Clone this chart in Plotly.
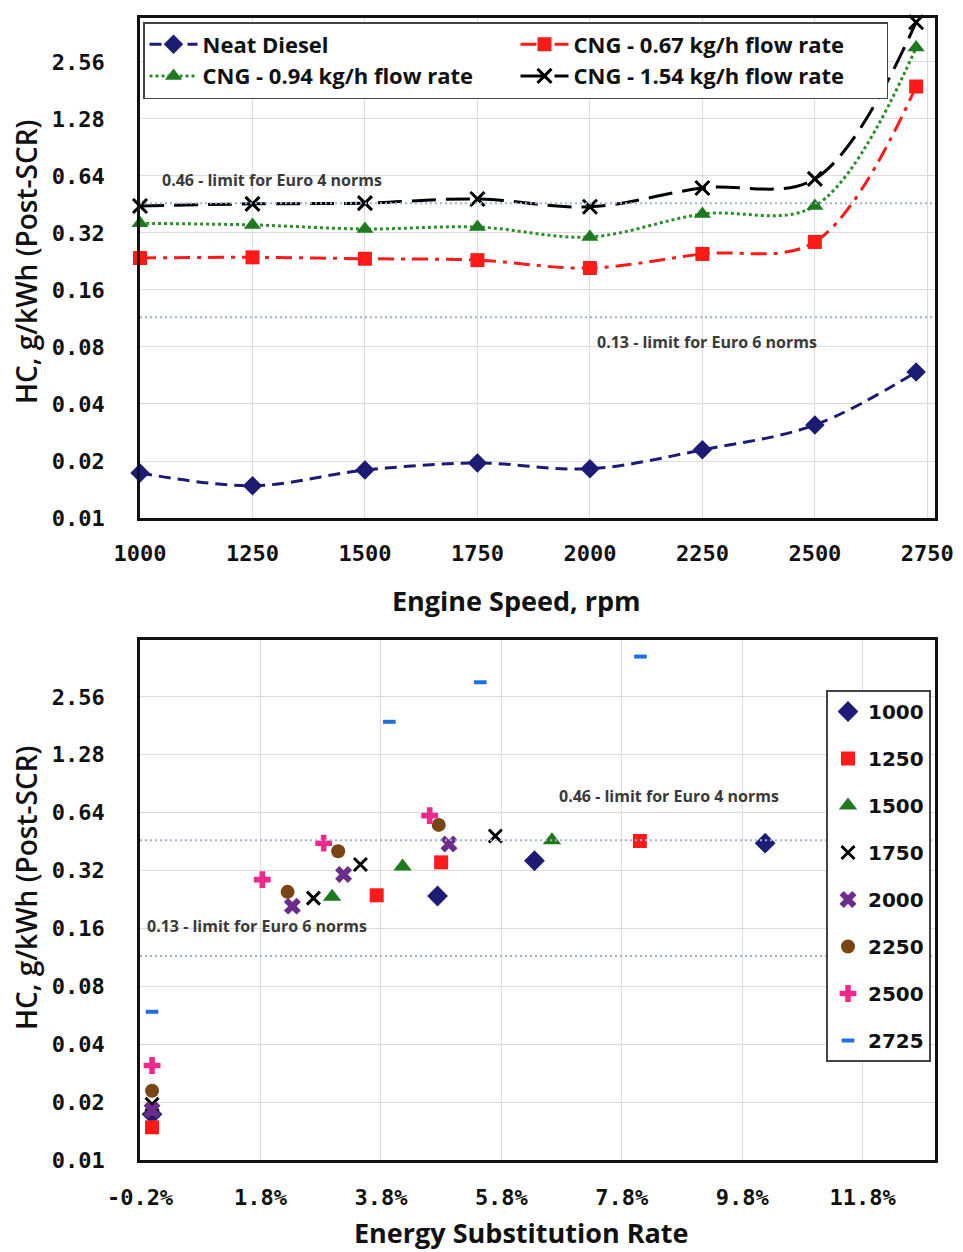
import math
import plotly.graph_objects as go

# ---------------- data ----------------
rpm = [1000, 1250, 1500, 1750, 2000, 2250, 2500, 2725]
hc_neat_diesel = [0.0173, 0.0148, 0.0179, 0.0195, 0.0182, 0.0229, 0.031, 0.059]
hc_cng_067 = [0.236, 0.238, 0.234, 0.230, 0.209, 0.248, 0.287, 1.90]
hc_cng_094 = [0.360, 0.353, 0.336, 0.344, 0.305, 0.403, 0.444, 3.05]
hc_cng_154 = [0.444, 0.456, 0.460, 0.484, 0.440, 0.553, 0.618, 4.15]

# energy substitution rate (%) for each rpm at the three CNG flow rates
esr_cng_067 = [4.74, 3.73, 2.99, 2.68, 2.33, 2.25, 1.83, 3.94]
esr_cng_094 = [6.35, 4.80, 4.16, 3.46, 3.18, 3.09, 2.85, 5.45]
esr_cng_154 = [10.18, 8.10, 6.64, 5.70, 4.93, 4.76, 4.61, 8.11]
esr_neat_diesel = [0.0] * 8

euro4_limit = 0.46
euro6_limit = 0.115
euro4_label = "0.46 - limit for Euro 4 norms"
euro6_label = "0.13 - limit for Euro 6 norms"

y_tick_vals = [0.01, 0.02, 0.04, 0.08, 0.16, 0.32, 0.64, 1.28, 2.56]
y_tick_text = ["0.01", "0.02", "0.04", "0.08", "0.16", "0.32", "0.64", "1.28", "2.56"]
x1_ticks = [1000, 1250, 1500, 1750, 2000, 2250, 2500, 2750]
x2_ticks = [-0.2, 1.8, 3.8, 5.8, 7.8, 9.8, 11.8]
x2_tick_text = ["-0.2%", "1.8%", "3.8%", "5.8%", "7.8%", "9.8%", "11.8%"]

series_names = ["Neat Diesel", "CNG - 0.67 kg/h flow rate",
                "CNG - 0.94 kg/h flow rate", "CNG - 1.54 kg/h flow rate"]

# ---------------- styling ----------------
W, H = 963, 1252
PX_L, PX_R = 140, 935
TOP_T, TOP_B = 18, 518
BOT_T, BOT_B = 640, 1160

x1_range = [1000, 2767]
y1_range = [math.log10(0.01), math.log10(4.37)]
x2_range = [-0.2, 13.0]
y2_range = [math.log10(0.01), math.log10(5.06)]

NAVY = "#1c1c74"
RED = "#ff1a1a"
GREEN = "#1f7a1f"
GREEN_LINE = "#2a8f2a"
BLACK = "#000000"
PURPLE = "#6b2c8c"
BROWN = "#7a4514"
PINK = "#f0288c"
BLUE = "#1f6fe0"
LIMIT = "#9fb3d1"

fig = go.Figure()

# ---------- top chart ----------
top_styles = [
    dict(color=NAVY, dash="12px,7px", symbol="diamond", size=15, mcolor=NAVY, lw=None),
    dict(color=RED, dash="16px,7px,4px,7px", symbol="square", size=14, mcolor=RED, lw=None),
    dict(color=GREEN_LINE, dash="3px,3px", symbol="triangle-up", size=15, mcolor=GREEN, lw=None),
    dict(color=BLACK, dash="24px,10px", symbol="x-thin-open", size=14, mcolor=BLACK, lw=3),
]
top_data = [hc_neat_diesel, hc_cng_067, hc_cng_094, hc_cng_154]
for name, vals, st in zip(series_names, top_data, top_styles):
    marker = dict(symbol=st["symbol"], size=st["size"], color=st["mcolor"])
    if st["lw"]:
        marker["line"] = dict(width=st["lw"], color=st["mcolor"])
    fig.add_trace(go.Scatter(
        x=rpm, y=vals, name=name, mode="lines+markers",
        line=dict(color=st["color"], width=3, dash=st["dash"], shape="spline", smoothing=1.0),
        marker=marker, xaxis="x", yaxis="y", legend="legend", cliponaxis=False))

for lim in (euro4_limit, euro6_limit):
    fig.add_trace(go.Scatter(
        x=x1_range, y=[lim, lim], mode="lines", showlegend=False, hoverinfo="skip",
        line=dict(color=LIMIT, width=2, dash="2px,3px"), xaxis="x", yaxis="y"))

# ---------- bottom chart ----------
bottom_styles = [
    dict(symbol="diamond", color=NAVY, size=16),
    dict(symbol="square", color=RED, size=14),
    dict(symbol="triangle-up", color=GREEN, size=16),
    dict(symbol="x-thin-open", color=BLACK, size=13, lw=3),
    dict(symbol="x", color=PURPLE, size=15),
    dict(symbol="circle", color=BROWN, size=14),
    dict(symbol="cross", color=PINK, size=14),
    dict(symbol="line-ew-open", color=BLUE, size=9, lw=4),
]
for i, r in enumerate(rpm):
    st = bottom_styles[i]
    xs = [esr_neat_diesel[i], esr_cng_067[i], esr_cng_094[i], esr_cng_154[i]]
    ys = [hc_neat_diesel[i], hc_cng_067[i], hc_cng_094[i], hc_cng_154[i]]
    marker = dict(symbol=st["symbol"], size=st["size"], color=st["color"])
    if "lw" in st:
        marker["line"] = dict(width=st["lw"], color=st["color"])
    fig.add_trace(go.Scatter(
        x=xs, y=ys, name=str(r), mode="markers", marker=marker,
        xaxis="x2", yaxis="y2", legend="legend2", legendgroup=str(r), cliponaxis=False))

for lim in (euro4_limit, euro6_limit):
    fig.add_trace(go.Scatter(
        x=x2_range, y=[lim, lim], mode="lines", showlegend=False, hoverinfo="skip",
        line=dict(color=LIMIT, width=2, dash="2px,3px"), xaxis="x2", yaxis="y2"))

# ---------- layout ----------
def fx(px):
    return px / W

def fy(py):
    return 1 - py / H

tick_font = dict(family="DejaVu Sans Mono", size=22, color="#111111", weight="bold")
axis_common = dict(showgrid=True, gridcolor="#dcdcdc", gridwidth=1, showline=True,
                   linecolor="#111111", linewidth=2.5, mirror=True, ticks="",
                   zeroline=False, tickfont=tick_font, automargin=False)

fig.update_layout(
    width=W, height=H, margin=dict(l=0, r=0, t=0, b=0, autoexpand=False),
    paper_bgcolor="white", plot_bgcolor="white",
    font=dict(family="Open Sans", color="#111111"),
    xaxis=dict(domain=[fx(PX_L), fx(PX_R)], anchor="y", range=x1_range,
               tickvals=x1_ticks, ticklabelstandoff=14, **axis_common),
    yaxis=dict(domain=[fy(TOP_B), fy(TOP_T)], anchor="x", type="log", range=y1_range,
               tickvals=y_tick_vals, ticktext=y_tick_text, ticklabelstandoff=28, **axis_common),
    xaxis2=dict(domain=[fx(PX_L), fx(PX_R)], anchor="y2", range=x2_range,
                tickvals=x2_ticks, ticktext=x2_tick_text, ticklabelstandoff=16, **axis_common),
    yaxis2=dict(domain=[fy(BOT_B), fy(BOT_T)], anchor="x2", type="log", range=y2_range,
                tickvals=y_tick_vals, ticktext=y_tick_text, ticklabelstandoff=28, **axis_common),
    legend=dict(orientation="h", x=fx(143), y=fy(22), xanchor="left", yanchor="top",
                entrywidth=308, entrywidthmode="pixels", itemwidth=48,
                bgcolor="white", bordercolor="#444444", borderwidth=1.5,
                font=dict(family="Open Sans", size=22, weight="bold", color="#111111")),
    legend2=dict(orientation="v", x=fx(826), y=fy(690), xanchor="left", yanchor="top",
                 itemwidth=30, tracegroupgap=18,
                 bgcolor="white", bordercolor="#444444", borderwidth=2,
                 font=dict(family="DejaVu Sans", size=20, weight="bold", color="#111111")),
    showlegend=True,
)

ann_font = dict(family="Open Sans", size=16, color="#3a3a3a", weight="bold")
title_font = dict(family="Open Sans", size=27, color="#111111", weight="bold")
ytitle_font = dict(family="Open Sans", size=28, color="#111111", weight=600)

annotations = [
    dict(text=euro4_label, x=fx(160), y=fy(180), xanchor="left", yanchor="middle"),
    dict(text=euro6_label, x=fx(595), y=fy(342), xanchor="left", yanchor="middle"),
    dict(text=euro4_label, x=fx(557), y=fy(796), xanchor="left", yanchor="middle"),
    dict(text=euro6_label, x=fx(145), y=fy(926), xanchor="left", yanchor="middle"),
]
for a in annotations:
    fig.add_annotation(xref="paper", yref="paper", showarrow=False, font=ann_font, **a)

fig.add_annotation(text="Engine Speed, rpm", xref="paper", yref="paper", x=fx(516), y=fy(600),
                   xanchor="center", yanchor="middle", showarrow=False, font=title_font)
fig.add_annotation(text="Energy Substitution Rate", xref="paper", yref="paper", x=fx(521), y=fy(1232),
                   xanchor="center", yanchor="middle", showarrow=False, font=title_font)
fig.add_annotation(text="HC, g/kWh (Post-SCR)", xref="paper", yref="paper", x=fx(26), y=fy(262),
                   xanchor="center", yanchor="middle", textangle=-90, showarrow=False, font=ytitle_font)
fig.add_annotation(text="HC, g/kWh (Post-SCR)", xref="paper", yref="paper", x=fx(26), y=fy(888),
                   xanchor="center", yanchor="middle", textangle=-90, showarrow=False, font=ytitle_font)

fig.write_html("out.html")
